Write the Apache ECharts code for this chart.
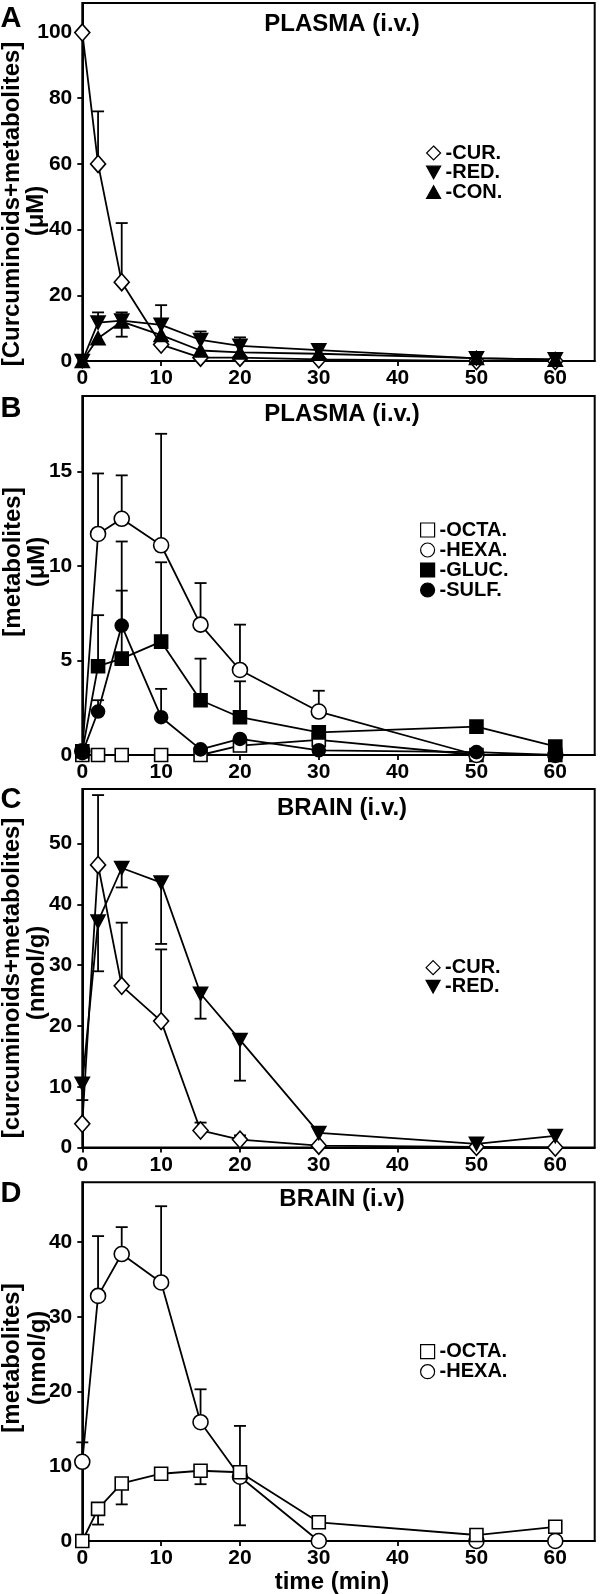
<!DOCTYPE html>
<html><head><meta charset="utf-8">
<script src="https://cdn.jsdelivr.net/npm/echarts@6/dist/echarts.min.js"></script>
<style>html,body{margin:0;padding:0;background:#fff}#c{width:600px;height:1594px}</style>
</head><body><div id="c"></div>
<script>
// ---------- data ----------
const times = [0, 2, 5, 10, 15, 20, 30, 50, 60];
const xTicks = [0, 10, 20, 30, 40, 50, 60];

// Panel A : PLASMA (i.v.)  [uM]
const aCUR      = [100, 60, 24, 5, 1, 1, 0.5, 0, 0];
const aCURerrHi = [null, 76, 42, null, null, null, null, null, null];
const aRED      = [0, 11.7, 12.3, 11, 6.4, 4.6, 3.3, 0.8, 0.5];
const aREDerrHi = [null, 14.8, 14.8, 17, 9, 7.2, 4.6, null, null];
const aCON      = [0, 6.9, 12, 7.9, 3.2, 2.6, 2.2, 0.9, 0.4];
const aCONerrLo = [null, null, 7.4, null, null, null, null, null, null];

// Panel B : PLASMA (i.v.) metabolites [uM]
const bOCTA      = [0, 0, 0, 0, 0, 0.5, 0.8, 0, 0];
const bHEXA      = [0.2, 11.7, 12.5, 11.1, 6.9, 4.5, 2.3, 0, 0];
const bHEXAerrHi = [null, 14.9, 14.8, 17, 9.1, 6.9, 3.4, null, null];
const bGLUC      = [0.2, 4.7, 5.1, 6.0, 2.9, 2.0, 1.2, 1.5, 0.45];
const bGLUCerrHi = [null, 7.4, 8.7, 10.2, 5.1, 3.9, null, null, null];
const bSULF      = [0.1, 2.3, 6.85, 2.0, 0.3, 0.85, 0.25, 0.15, 0];
const bSULFerrHi = [null, 2.9, 11.3, 3.5, null, null, null, null, null];

// Panel C : BRAIN (i.v.) [nmol/g]
const cCUR      = [3.9, 46.5, 26.6, 20.8, 2.8, 1.3, 0.3, 0.1, 0];
const cCURerrHi = [null, 58, 37, 32.6, 4.1, 2.0, null, null, null];
const cRED      = [10.5, 37.2, 46, 43.6, 25.3, 17.7, 2.4, 0.6, 1.9];
const cREDerrLo = [7.8, 29, 42.8, 33.5, 21.2, 11, null, null, null];

// Panel D : BRAIN (i.v) metabolites [nmol/g]
const dOCTA      = [0, 4.3, 7.7, 9.0, 9.4, 9.2, 2.5, 0.8, 1.9];
const dOCTAerrLo = [null, 2.2, 4.9, null, 7.6, null, null, null, null];
const dHEXA      = [10.6, 32.8, 38.4, 34.6, 15.9, 8.6, 0, 0, 0];
const dHEXAerrHi = [13.2, 40.8, 42, 44.8, 20.3, 15.4, null, null, null];
const dHEXAerrLo = [null, null, null, null, null, 2.1, null, null, null];

const yTicks = [[0, 20, 40, 60, 80, 100], [0, 5, 10, 15], [0, 10, 20, 30, 40, 50], [0, 10, 20, 30, 40]];
const yMax = [109, 19, 59, 48];
const xMax = 65;
const panelLetters = ['A', 'B', 'C', 'D'];
const panelTitles = ['PLASMA (i.v.)', 'PLASMA (i.v.)', 'BRAIN (i.v.)', 'BRAIN (i.v)'];
const yTitle1 = ['[Curcuminoids+metabolites]', '[metabolites]', '[curcuminoids+metabolites]', '[metabolites]'];
const yTitle2 = ['(\u03bcM)', '(\u03bcM)', '(nmol/g)', '(nmol/g)'];
const xTitle = 'time (min)';
const legendNames = [['CUR.', 'RED.', 'CON.'], ['OCTA.', 'HEXA.', 'GLUC.', 'SULF.'], ['CUR.', 'RED.'], ['OCTA.', 'HEXA.']];

// ---------- layout / style ----------
const FONT = '"Liberation Sans", Arial, Helvetica, sans-serif';
const gridTop = [3, 396, 789, 1182.3];
const gridH = [358, 359, 358.5, 358.7];
const gridLeft = 82.3, gridW = 512.4;
const titleY = [24, 414, 808, 1199];
const letterY = [19, 409, 800, 1194];
const yt1 = [[12, 204], [13, 562], [12, 978], [12.5, 1358]];
const yt2 = [[36.5, 211], [37.5, 562], [37, 973], [38.5, 1358]];
const legendPos = [[426, 143, 19.5], [420, 520, 20], [425.5, 957.7, 19], [420, 1341.7, 20]];
const LW = 1.8;

const DOWN = 'path://M0,0L10,0L5,9Z';
const UP = 'path://M5,0L10,9L0,9Z';
const symbolDefs = {
  'CUR.':  {icon: 'diamond', fill: '#fff', size: [15, 17], sym: 'diamond'},
  'RED.':  {icon: DOWN, fill: '#000', size: [14, 13], sym: DOWN},
  'CON.':  {icon: UP, fill: '#000', size: [14, 13], sym: UP},
  'OCTA.': {icon: 'rect', fill: '#fff', size: 13, sym: 'rect'},
  'HEXA.': {icon: 'circle', fill: '#fff', size: 15, sym: 'circle'},
  'GLUC.': {icon: 'rect', fill: '#000', size: 13, sym: 'rect'},
  'SULF.': {icon: 'circle', fill: '#000', size: 13, sym: 'circle'}
};

const grid = [], xAxis = [], yAxis = [], series = [], legend = [], graphic = [];
for (let g = 0; g < 4; g++) {
  grid.push({left: gridLeft, top: gridTop[g], width: gridW, height: gridH[g], show: true,
    borderColor: '#000', borderWidth: 2, backgroundColor: 'transparent', containLabel: false, outerBoundsMode: 'none'});
  xAxis.push({type: 'value', gridIndex: g, min: 0, max: xMax,
    axisLine: {show: true, onZero: false, lineStyle: {color: '#000', width: 2}},
    axisTick: {show: true, length: 5, lineStyle: {color: '#000', width: 1.8}, customValues: xTicks},
    axisLabel: {show: true, customValues: xTicks, margin: 7, color: '#000', fontSize: 21, fontWeight: 'bold', fontFamily: FONT},
    splitLine: {show: false}});
  yAxis.push({type: 'value', gridIndex: g, min: 0, max: yMax[g],
    axisLine: {show: true, onZero: false, lineStyle: {color: '#000', width: 2}},
    axisTick: {show: true, length: 5, lineStyle: {color: '#000', width: 1.8}, customValues: yTicks[g]},
    axisLabel: {show: true, customValues: yTicks[g], margin: 10, color: '#000', fontSize: 21, fontWeight: 'bold', fontFamily: FONT},
    splitLine: {show: false}});
}

function lineSeries(name, g, vals) {
  const d = symbolDefs[name];
  return {type: 'line', name: name, xAxisIndex: g, yAxisIndex: g,
    data: times.map((t, i) => [t, vals[i]]),
    symbol: d.sym, symbolSize: d.size, showAllSymbol: true, clip: false,
    lineStyle: {color: '#000', width: LW},
    itemStyle: {color: d.fill, borderColor: '#000', borderWidth: 1.6},
    emphasis: {disabled: true}, z: 3, animation: false};
}
function errSeries(g, vals, ends) {
  const data = [];
  times.forEach((t, i) => { if (ends[i] != null) data.push([t, vals[i], ends[i]]); });
  return {type: 'custom', xAxisIndex: g, yAxisIndex: g, data: data, z: 2, animation: false, silent: true,
    encode: {x: 0, y: [1, 2]},
    renderItem: function (params, api) {
      const p0 = api.coord([api.value(0), api.value(1)]);
      const p1 = api.coord([api.value(0), api.value(2)]);
      const cw = 6;
      return {type: 'group', children: [
        {type: 'line', shape: {x1: p0[0], y1: p0[1], x2: p1[0], y2: p1[1]}, style: {stroke: '#000', lineWidth: LW}},
        {type: 'line', shape: {x1: p1[0] - cw, y1: p1[1], x2: p1[0] + cw, y2: p1[1]}, style: {stroke: '#000', lineWidth: LW}}
      ]};
    }};
}

// panel A
series.push(errSeries(0, aCUR, aCURerrHi), errSeries(0, aRED, aREDerrHi), errSeries(0, aCON, aCONerrLo));
series.push(lineSeries('CUR.', 0, aCUR), lineSeries('CON.', 0, aCON), lineSeries('RED.', 0, aRED));
// panel B
series.push(errSeries(1, bHEXA, bHEXAerrHi), errSeries(1, bGLUC, bGLUCerrHi), errSeries(1, bSULF, bSULFerrHi));
series.push(lineSeries('OCTA.', 1, bOCTA), lineSeries('HEXA.', 1, bHEXA), lineSeries('GLUC.', 1, bGLUC), lineSeries('SULF.', 1, bSULF));
// panel C
series.push(errSeries(2, cCUR, cCURerrHi), errSeries(2, cRED, cREDerrLo));
series.push(lineSeries('CUR.', 2, cCUR), lineSeries('RED.', 2, cRED));
// panel D
series.push(errSeries(3, dOCTA, dOCTAerrLo), errSeries(3, dHEXA, dHEXAerrHi), errSeries(3, dHEXA, dHEXAerrLo));
series.push(lineSeries('HEXA.', 3, dHEXA), lineSeries('OCTA.', 3, dOCTA));

for (let g = 0; g < 4; g++) {
  legend.push({orient: 'vertical', left: legendPos[g][0], top: legendPos[g][1], padding: 0,
    itemWidth: 14, itemHeight: 14, itemGap: legendPos[g][2] - 20, selectedMode: false,
    formatter: n => '-' + n,
    textStyle: {color: '#000', fontSize: 20, fontWeight: 'bold', fontFamily: FONT, lineHeight: 20},
    data: legendNames[g].map(n => ({name: n, icon: symbolDefs[n].icon,
      itemStyle: {color: symbolDefs[n].fill, borderColor: '#000', borderWidth: 1.2}}))});

  const txt = (x, y, text, size, rot) => ({type: 'text', x: x, y: y, rotation: rot || 0, silent: true,
    style: {text: text, fill: '#000', fontSize: size, fontWeight: 'bold', fontFamily: FONT,
      textAlign: 'center', textVerticalAlign: 'middle', align: 'center', verticalAlign: 'middle'}});
  graphic.push(txt(11, letterY[g], panelLetters[g], 29));
  graphic.push(txt(342, titleY[g], panelTitles[g], 24));
  graphic.push(txt(yt1[g][0], yt1[g][1], yTitle1[g], 24, Math.PI / 2));
  graphic.push(txt(yt2[g][0], yt2[g][1], yTitle2[g], 24, Math.PI / 2));
}
graphic.push({type: 'text', x: 332, y: 1582, silent: true,
  style: {text: xTitle, fill: '#000', fontSize: 24, fontWeight: 'bold', fontFamily: FONT,
    textAlign: 'center', textVerticalAlign: 'middle', align: 'center', verticalAlign: 'middle'}});

const chart = echarts.init(document.getElementById('c'), null, {renderer: 'canvas'});
chart.setOption({animation: false, backgroundColor: '#fff', grid, xAxis, yAxis, series, legend, graphic});
</script></body></html>
